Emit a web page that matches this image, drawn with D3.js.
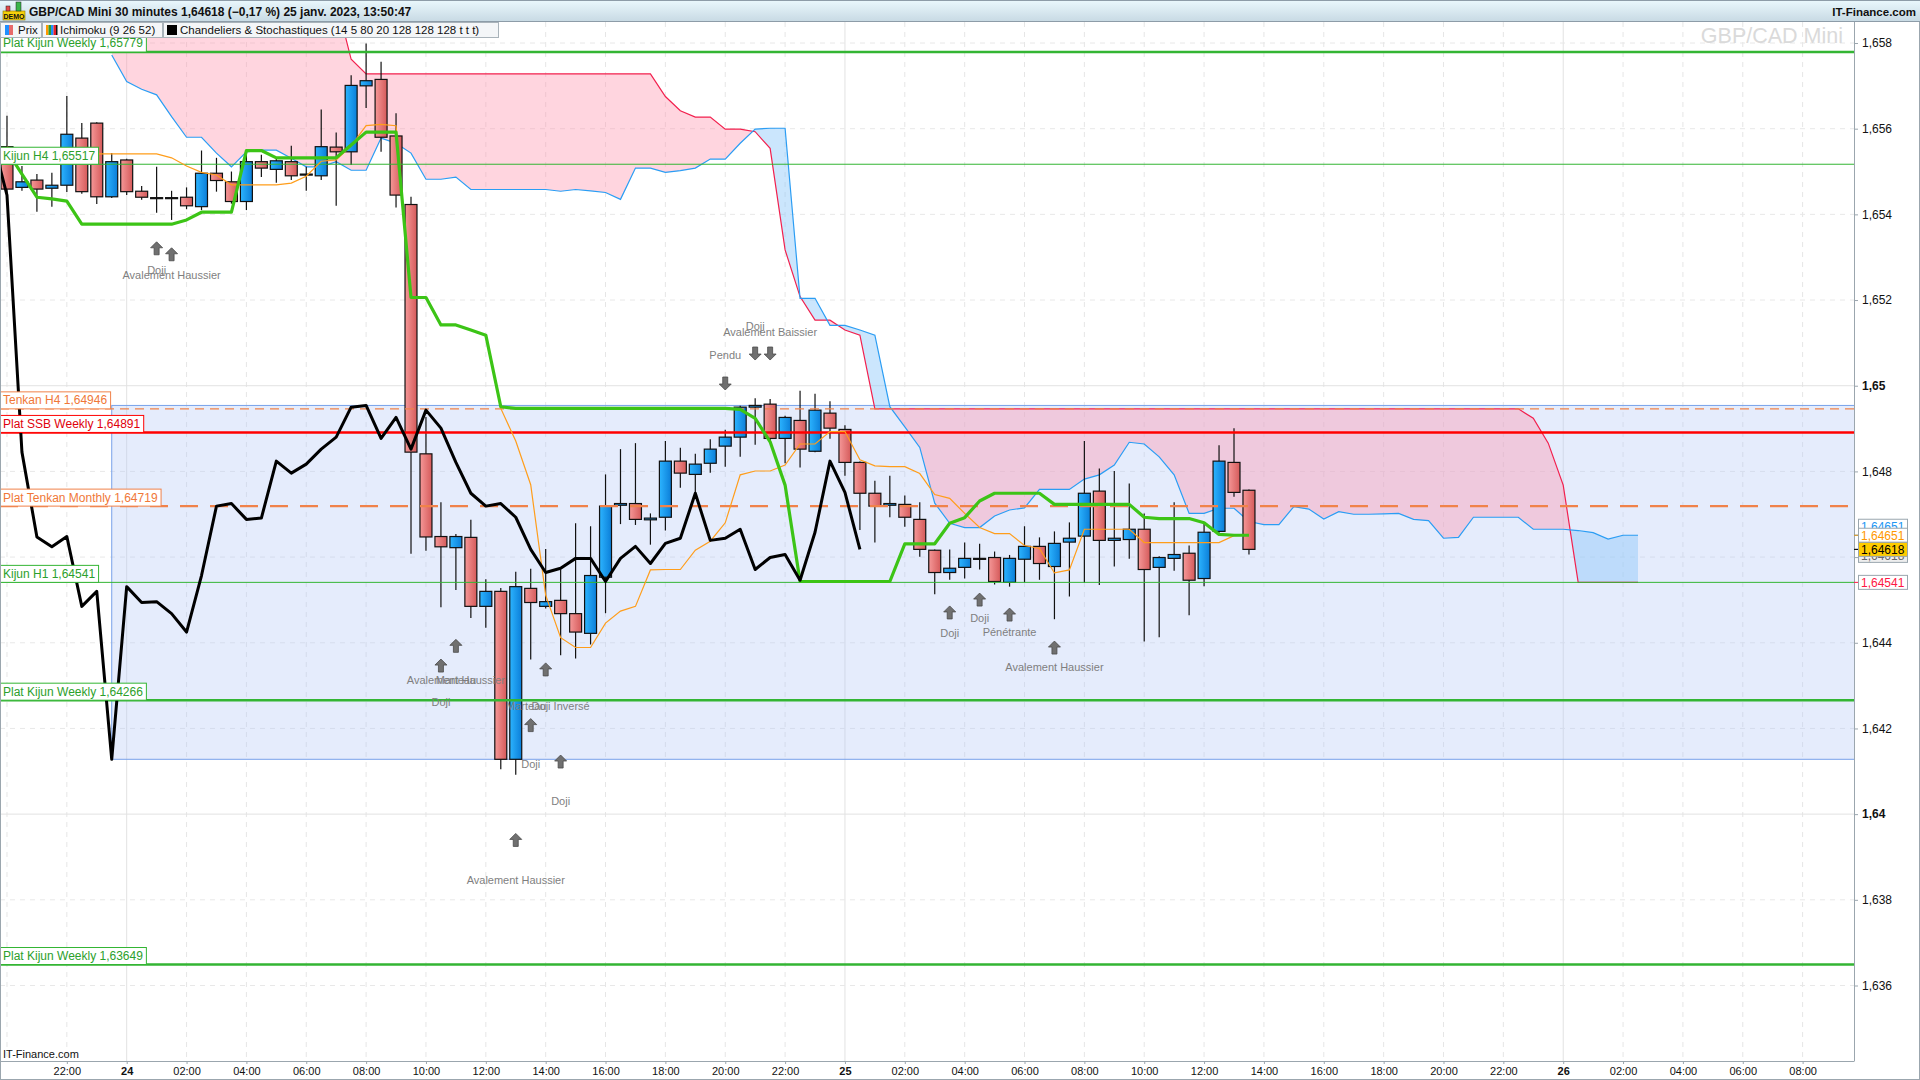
<!DOCTYPE html>
<html>
<head>
<meta charset="utf-8">
<script src="https://cdn.jsdelivr.net/npm/d3@7"></script>
<style>
  body { margin: 0; background: #fff; }
  svg { display: block; }
  text { font-family: "Liberation Sans", Arial, sans-serif; }
</style>
</head>
<body>
<div id="chart"></div>
<script>
// GBP/CAD Mini, 30 minute candles, the first one opens on 23 janv. 20:00
var firstCandle = new Date(2023, 0, 23, 20, 0);

var opens = [1.65558,1.65463,1.65480,1.65461,1.65468,1.65578,1.65613,1.65441,1.65527,1.65454,
  1.65439,1.65439,1.65440,1.65418,1.65496,1.65476,1.65430,1.65523,1.65505,1.65523,
  1.65494,1.65490,1.65557,1.65546,1.65700,1.65715,1.65583,1.65423,1.64841,1.64648,
  1.64622,1.64646,1.64485,1.64520,1.64128,1.64527,1.64485,1.64499,1.64468,1.64422,
  1.64553,1.64721,1.64725,1.64687,1.64693,1.64824,1.64793,1.64819,1.64859,1.64880,
  1.64950,1.64957,1.64877,1.64919,1.64847,1.64936,1.64898,1.64821,1.64749,1.64721,
  1.64723,1.64688,1.64616,1.64564,1.64576,1.64597,1.64599,1.64541,1.64595,1.64625,
  1.64578,1.64635,1.64649,1.64754,1.64639,1.64641,1.64665,1.64576,1.64597,1.64609,
  1.64550,1.64660,1.64821,1.64756];
var highs = [1.65630,1.65513,1.65494,1.65497,1.65676,1.65613,1.65615,1.65543,1.65530,1.65466,
  1.65511,1.65455,1.65463,1.65549,1.65532,1.65500,1.65546,1.65539,1.65532,1.65560,
  1.65511,1.65645,1.65591,1.65725,1.65799,1.65756,1.65636,1.65441,1.64927,1.64728,
  1.64654,1.64687,1.64548,1.64528,1.64566,1.64573,1.64619,1.64571,1.64679,1.64672,
  1.64793,1.64852,1.64866,1.64702,1.64871,1.64855,1.64841,1.64875,1.64897,1.64953,
  1.64971,1.64969,1.64930,1.64988,1.64981,1.64964,1.64908,1.64823,1.64778,1.64790,
  1.64744,1.64728,1.64618,1.64618,1.64634,1.64631,1.64613,1.64605,1.64672,1.64646,
  1.64660,1.64681,1.64871,1.64807,1.64801,1.64772,1.64702,1.64602,1.64728,1.64627,
  1.64681,1.64861,1.64901,1.64758];
var lows = [1.65434,1.65455,1.65406,1.65418,1.65452,1.65448,1.65424,1.65438,1.65445,1.65434,
  1.65404,1.65387,1.65412,1.65410,1.65453,1.65425,1.65410,1.65487,1.65474,1.65480,
  1.65455,1.65480,1.65420,1.65515,1.65648,1.65546,1.65416,1.64608,1.64615,1.64483,
  1.64523,1.64458,1.64435,1.64105,1.64092,1.64361,1.64480,1.64371,1.64363,1.64396,
  1.64469,1.64677,1.64675,1.64629,1.64662,1.64762,1.64746,1.64797,1.64811,1.64834,
  1.64862,1.64870,1.64819,1.64809,1.64845,1.64876,1.64790,1.64663,1.64634,1.64693,
  1.64671,1.64601,1.64513,1.64547,1.64550,1.64571,1.64536,1.64531,1.64541,1.64547,
  1.64455,1.64508,1.64540,1.64535,1.64578,1.64596,1.64403,1.64413,1.64568,1.64464,
  1.64532,1.64657,1.64741,1.64606];
var closes = [1.65459,1.65476,1.65459,1.65468,1.65587,1.65453,1.65441,1.65523,1.65453,1.65440,
  1.65439,1.65439,1.65420,1.65496,1.65479,1.65430,1.65523,1.65508,1.65525,1.65490,
  1.65494,1.65558,1.65546,1.65701,1.65712,1.65580,1.65445,1.64845,1.64647,1.64624,
  1.64648,1.64485,1.64520,1.64128,1.64531,1.64494,1.64496,1.64468,1.64425,1.64557,
  1.64719,1.64725,1.64688,1.64691,1.64824,1.64796,1.64817,1.64852,1.64880,1.64950,
  1.64954,1.64877,1.64926,1.64852,1.64943,1.64901,1.64821,1.64749,1.64719,1.64725,
  1.64693,1.64618,1.64564,1.64574,1.64597,1.64597,1.64543,1.64597,1.64625,1.64585,
  1.64632,1.64644,1.64749,1.64639,1.64644,1.64665,1.64571,1.64599,1.64606,1.64546,
  1.64658,1.64824,1.64751,1.64618];

var tenkan = [1.65557,1.65546,1.65541,1.65541,1.65541,1.65541,1.65541,1.65541,1.65541,1.65541,
  1.65541,1.65532,1.65513,1.65498,1.65492,1.65469,1.65469,1.65469,1.65469,1.65473,
  1.65489,1.65524,1.65527,1.65560,1.65607,1.65610,1.65607,1.65206,1.65206,1.65142,
  1.65142,1.65130,1.65118,1.64947,1.64871,1.64769,1.64511,1.64412,1.64389,1.64389,
  1.64446,1.64474,1.64485,1.64570,1.64571,1.64571,1.64616,1.64637,1.64680,1.64792,
  1.64801,1.64801,1.64815,1.64864,1.64864,1.64893,1.64893,1.64827,1.64813,1.64811,
  1.64811,1.64795,1.64746,1.64737,1.64702,1.64669,1.64655,1.64655,1.64627,1.64620,
  1.64563,1.64570,1.64665,1.64665,1.64665,1.64665,1.64634,1.64634,1.64634,1.64634,
  1.64634,1.64634,1.64650,1.64651];
var kijun = [1.65548,1.65494,1.65440,1.65436,1.65431,1.65377,1.65377,1.65377,1.65377,1.65377,
  1.65377,1.65377,1.65387,1.65405,1.65405,1.65405,1.65549,1.65549,1.65532,1.65532,
  1.65532,1.65532,1.65532,1.65562,1.65592,1.65592,1.65592,1.65206,1.65206,1.65142,
  1.65142,1.65130,1.65118,1.64951,1.64947,1.64947,1.64947,1.64947,1.64947,1.64947,
  1.64947,1.64947,1.64947,1.64947,1.64947,1.64947,1.64947,1.64947,1.64947,1.64945,
  1.64924,1.64869,1.64768,1.64543,1.64543,1.64543,1.64543,1.64543,1.64543,1.64543,
  1.64631,1.64631,1.64631,1.64679,1.64692,1.64731,1.64749,1.64749,1.64749,1.64749,
  1.64723,1.64723,1.64723,1.64723,1.64723,1.64723,1.64693,1.64690,1.64690,1.64690,
  1.64680,1.64653,1.64651,1.64651];

// cloud, already shifted 26 periods forward, starts at candle 7
var cloudStart = 7;
var spanA = [1.65772,1.65710,1.65692,1.65679,1.65628,1.65580,1.65580,1.65543,1.65511,1.65546,
  1.65550,1.65550,1.65531,1.65511,1.65511,1.65523,1.65503,1.65503,1.65578,1.65566,
  1.65543,1.65482,1.65482,1.65487,1.65458,1.65458,1.65458,1.65458,1.65458,1.65458,
  1.65454,1.65458,1.65455,1.65451,1.65435,1.65508,1.65508,1.65498,1.65502,1.65508,
  1.65529,1.65529,1.65566,1.65599,1.65601,1.65601,1.65204,1.65204,1.65141,1.65141,
  1.65130,1.65118,1.64951,1.64904,1.64856,1.64726,1.64679,1.64669,1.64669,1.64696,
  1.64710,1.64715,1.64758,1.64758,1.64758,1.64782,1.64792,1.64815,1.64868,1.64864,
  1.64834,1.64792,1.64702,1.64702,1.64714,1.64714,1.64683,1.64676,1.64676,1.64718,
  1.64712,1.64689,1.64706,1.64700,1.64700,1.64701,1.64702,1.64688,1.64685,1.64644,
  1.64646,1.64693,1.64693,1.64693,1.64693,1.64665,1.64665,1.64665,1.64662,1.64657,
  1.64642,1.64651,1.64651];
var spanB = [1.65900,1.65900,1.65900,1.65900,1.65900,1.65900,1.65900,1.65900,1.65900,1.65900,
  1.65900,1.65900,1.65900,1.65900,1.65900,1.65900,1.65762,1.65728,1.65728,1.65728,
  1.65728,1.65728,1.65728,1.65728,1.65728,1.65728,1.65728,1.65728,1.65728,1.65728,
  1.65728,1.65728,1.65728,1.65728,1.65728,1.65728,1.65728,1.65675,1.65642,1.65627,
  1.65627,1.65599,1.65599,1.65593,1.65554,1.65317,1.65208,1.65153,1.65153,1.65130,
  1.65118,1.64946,1.64946,1.64946,1.64946,1.64946,1.64946,1.64946,1.64946,1.64946,
  1.64946,1.64946,1.64946,1.64946,1.64946,1.64946,1.64946,1.64946,1.64946,1.64946,
  1.64946,1.64946,1.64946,1.64946,1.64946,1.64946,1.64946,1.64946,1.64946,1.64946,
  1.64946,1.64946,1.64946,1.64946,1.64946,1.64946,1.64946,1.64946,1.64946,1.64946,
  1.64946,1.64946,1.64946,1.64946,1.64946,1.64924,1.64866,1.64768,1.64541,1.64541,
  1.64541,1.64541,1.64541];

var levelNames = ["Plat Kijun Weekly", "Kijun H4", "Tenkan H4", "Plat SSB Weekly",
  "Plat Tenkan Monthly", "Kijun H1", "Plat Kijun Weekly", "Plat Kijun Weekly"];
var levelValues = [1.65779, 1.65517, 1.64946, 1.64891, 1.64719, 1.64541, 1.64266, 1.63649];

var zoneTop = 1.64954, zoneBottom = 1.64128, zoneStart = 7;

var priceTicks = [1.636, 1.638, 1.640, 1.642, 1.644, 1.646, 1.648, 1.650, 1.652, 1.654, 1.656, 1.658];

var arrowIdx = [10, 11, 29, 30, 34, 35, 36, 37, 63, 65, 67, 70, 48, 50, 51];
var arrowTip = [1.65336, 1.65322, 1.64362, 1.64408, 1.63955, 1.64223, 1.64353, 1.64138,
  1.64486, 1.64516, 1.64481, 1.64404, 1.64990, 1.65060, 1.65060];
var arrowDir = ["up","up","up","up","up","up","up","up","up","up","up","up","down","down","down"];

var noteText = ["Doji", "Avalement Haussier", "Pendu", "Doji", "Avalement Baissier", "Doji",
  "Avalement Haussier", "Marteau", "Marteau", "Doji Inversé", "Doji", "Doji", "Avalement Haussier",
  "Doji", "Doji", "Pénétrante", "Avalement Haussier"];
var noteIdx = [10, 11, 48, 50, 51, 29, 30, 30, 34.7, 37, 35, 37, 34, 63, 65, 67, 70];
var notePrice = [1.65270, 1.65257, 1.65072, 1.65138, 1.65125, 1.64262, 1.64313, 1.64313, 1.64251,
  1.64251, 1.64117, 1.64031, 1.63846, 1.64423, 1.64458, 1.64425, 1.64342];

var sideKinds = ["spanA", "chikou", "tenkan", "last", "spanB"];
var sideValues = [1.64651, 1.64618, 1.64651, 1.64618, 1.64541];

var W = 1920, H = 1080;
var plot = { left: 0, top: 22, right: 1854, bottom: 1061 };

function candleTime(i) { return new Date(firstCandle.getTime() + i * 30 * 60000); }
function fmt(v) { return d3.format(".5f")(v).replace(".", ","); }

var svg = d3.select("#chart").append("svg")
  .attr("width", W).attr("height", H)
  .style("background", "#fff");

var x = d3.scaleTime()
  .domain([new Date(2023, 0, 23, 19, 46), new Date(2023, 0, 26, 9, 43)])
  .range([plot.left, plot.right]);
var y = d3.scaleLinear().domain([1.658, 1.636]).range([43, 985.5]);

var defs = svg.append("defs");
defs.append("clipPath").attr("id", "plotClip").append("rect")
  .attr("x", plot.left).attr("y", plot.top)
  .attr("width", plot.right - plot.left).attr("height", plot.bottom - plot.top);

var gRed = defs.append("linearGradient").attr("id", "gRed");
gRed.append("stop").attr("offset", "0%").attr("stop-color", "#f59898");
gRed.append("stop").attr("offset", "100%").attr("stop-color", "#d55a5a");
var gBlue = defs.append("linearGradient").attr("id", "gBlue");
gBlue.append("stop").attr("offset", "0%").attr("stop-color", "#2cb4ff");
gBlue.append("stop").attr("offset", "100%").attr("stop-color", "#0b7ed8");
var gHead = defs.append("linearGradient").attr("id", "gHead").attr("x2", 0).attr("y2", 1);
gHead.append("stop").attr("offset", "0%").attr("stop-color", "#eaf8fd");
gHead.append("stop").attr("offset", "100%").attr("stop-color", "#c7d9e3");

var g = svg.append("g").attr("clip-path", "url(#plotClip)");

// grid
var timeTicks = x.ticks(d3.timeHour.every(2));
g.selectAll(".vgrid").data(timeTicks).enter().append("line")
  .attr("x1", d => x(d)).attr("x2", d => x(d))
  .attr("y1", plot.top).attr("y2", plot.bottom)
  .attr("stroke", d => d.getHours() === 0 ? "#e2e2e2" : "#e6e6e6")
  .attr("stroke-dasharray", d => d.getHours() === 0 ? null : "5,5");
g.selectAll(".hgrid").data(priceTicks).enter().append("line")
  .attr("x1", plot.left).attr("x2", plot.right)
  .attr("y1", d => y(d)).attr("y2", d => y(d))
  .attr("stroke", d => Math.abs(d * 100 - Math.round(d * 100)) < 1e-6 ? "#e2e2e2" : "#e8e8e8")
  .attr("stroke-dasharray", d => Math.abs(d * 100 - Math.round(d * 100)) < 1e-6 ? null : "5,5");

// lavender zone
g.append("rect")
  .attr("x", x(candleTime(zoneStart))).attr("y", y(zoneTop))
  .attr("width", plot.right - x(candleTime(zoneStart)) + 5)
  .attr("height", y(zoneBottom) - y(zoneTop))
  .attr("fill", "rgba(180,200,245,0.35)")
  .attr("stroke", "#78a2ea").attr("stroke-width", 1);

// cloud
var cloud = spanA.map((a, k) => ({ t: candleTime(cloudStart + k), a: a, b: spanB[k] }));
defs.append("clipPath").attr("id", "aboveA").append("path")
  .attr("d", d3.area().x(d => x(d.t)).y0(0).y1(d => y(d.a))(cloud));
defs.append("clipPath").attr("id", "belowA").append("path")
  .attr("d", d3.area().x(d => x(d.t)).y0(H).y1(d => y(d.a))(cloud));
var between = d3.area().x(d => x(d.t)).y0(d => y(d.a)).y1(d => y(d.b));
g.append("g").attr("clip-path", "url(#aboveA)").append("path")
  .attr("d", between(cloud)).attr("fill", "rgba(255,150,175,0.40)");
g.append("g").attr("clip-path", "url(#belowA)").append("path")
  .attr("d", between(cloud)).attr("fill", "rgba(140,200,250,0.45)");
g.append("path").datum(cloud)
  .attr("d", d3.line().x(d => x(d.t)).y(d => y(d.b)))
  .attr("fill", "none").attr("stroke", "#f2204e").attr("stroke-width", 1.2);
g.append("path").datum(cloud)
  .attr("d", d3.line().x(d => x(d.t)).y(d => y(d.a)))
  .attr("fill", "none").attr("stroke", "#2a9df4").attr("stroke-width", 1.2);

// candles
var candles = opens.map((o, i) => ({ t: candleTime(i), o: o, h: highs[i], l: lows[i], c: closes[i] }));
var bw = (x(candleTime(1)) - x(candleTime(0))) * 0.8;
var cg = g.append("g");
cg.selectAll(".wick").data(candles).enter().append("line")
  .attr("x1", d => x(d.t)).attr("x2", d => x(d.t))
  .attr("y1", d => y(d.h)).attr("y2", d => y(d.l))
  .attr("stroke", "#111").attr("stroke-width", 1.2);
cg.selectAll(".body").data(candles).enter().append("rect")
  .attr("x", d => x(d.t) - bw / 2)
  .attr("y", d => y(Math.max(d.o, d.c)))
  .attr("width", bw)
  .attr("height", d => Math.max(1, Math.abs(y(d.o) - y(d.c))))
  .attr("fill", d => d.c > d.o ? "url(#gBlue)" : d.c < d.o ? "url(#gRed)" : "#111")
  .attr("stroke", "#111").attr("stroke-width", 1.2);

// horizontal levels
function levelStyle(name) {
  if (name.indexOf("Plat Kijun") === 0) return { c: "#33b533", t: "#2ca02c", w: 2.5, dash: null };
  if (name.indexOf("Kijun") === 0) return { c: "#33b533", t: "#2ca02c", w: 1, dash: null };
  if (name === "Tenkan H4") return { c: "#f0824a", t: "#f07838", w: 1.2, dash: "9,6" };
  if (name.indexOf("Plat SSB") === 0) return { c: "#ff0000", t: "#e0000b", w: 2.5, dash: null };
  return { c: "#f0824a", t: "#f07838", w: 2.2, dash: "18,12" };
}
var levels = levelNames.map((n, k) => ({ name: n, v: levelValues[k], s: levelStyle(n) }));
g.selectAll(".level").data(levels).enter().append("line")
  .attr("x1", plot.left).attr("x2", plot.right)
  .attr("y1", d => y(d.v)).attr("y2", d => y(d.v))
  .attr("stroke", d => d.s.c).attr("stroke-width", d => d.s.w)
  .attr("stroke-dasharray", d => d.s.dash);

// ichimoku lines
var lineT = d3.line().x((d, i) => x(candleTime(i))).y(d => y(d));
g.append("path").datum(tenkan).attr("d", lineT)
  .attr("fill", "none").attr("stroke", "#ff9d1a").attr("stroke-width", 1.2);
g.append("path").datum(kijun).attr("d", lineT)
  .attr("fill", "none").attr("stroke", "#3cc416").attr("stroke-width", 3.2)
  .attr("stroke-linejoin", "round");
var chikou = closes.map((c, i) => ({ t: candleTime(i - 26), v: c }));
g.append("path").datum(chikou)
  .attr("d", d3.line().x(d => x(d.t)).y(d => y(d.v)))
  .attr("fill", "none").attr("stroke", "#000").attr("stroke-width", 3)
  .attr("stroke-linejoin", "round");

// pattern arrows and notes
var arrows = arrowIdx.map((i, k) => ({ x: x(candleTime(i)), y: y(arrowTip[k]), dir: arrowDir[k] }));
g.selectAll(".arrow").data(arrows).enter().append("path")
  .attr("d", d => {
    var s = d.dir === "up" ? 1 : -1;
    var pts = [[0, 0], [6, 6], [2.5, 6], [2.5, 13], [-2.5, 13], [-2.5, 6], [-6, 6]];
    return "M" + pts.map(p => (d.x + p[0]) + "," + (d.y + s * p[1])).join("L") + "Z";
  })
  .attr("fill", "#707070").attr("stroke", "#4a4a4a").attr("stroke-width", 0.8);
g.selectAll(".note").data(noteText).enter().append("text")
  .attr("x", (d, k) => x(candleTime(noteIdx[k])))
  .attr("y", (d, k) => y(notePrice[k]))
  .attr("dy", "0.35em").attr("text-anchor", "middle")
  .attr("font-size", 11).attr("fill", "#7f7f7f")
  .text(d => d);

// level labels on the left
var lab = svg.append("g").attr("clip-path", "url(#plotClip)");
levels.forEach(d => {
  var yl = y(d.v);
  var gg = lab.append("g");
  var r = gg.append("rect").attr("x", 0.5).attr("y", yl - 17).attr("height", 17)
    .attr("fill", "#fff").attr("stroke", d.s.c).attr("stroke-width", 1);
  var t = gg.append("text").attr("x", 3).attr("y", yl - 4.5)
    .attr("font-size", 12).attr("fill", d.s.t).text(d.name + " " + fmt(d.v));
  r.attr("width", t.node().getComputedTextLength() + 6);
});

// watermark
svg.append("text").attr("x", 1843).attr("y", 43).attr("text-anchor", "end")
  .attr("font-size", 21.5).attr("fill", "#dadada").text("GBP/CAD Mini");

// frame
svg.append("line").attr("x1", plot.right + 0.5).attr("x2", plot.right + 0.5)
  .attr("y1", plot.top).attr("y2", plot.bottom).attr("stroke", "#9ba6ae");
svg.append("line").attr("x1", 0).attr("x2", plot.right + 0.5)
  .attr("y1", plot.bottom + 0.5).attr("y2", plot.bottom + 0.5).attr("stroke", "#9ba6ae");
svg.append("rect").attr("x", 0.5).attr("y", 0.5).attr("width", W - 1).attr("height", H - 1)
  .attr("fill", "none").attr("stroke", "#9ba6ae");

// price axis
var yAxis = svg.append("g").attr("transform", "translate(" + plot.right + ",0)")
  .call(d3.axisRight(y).tickValues(priceTicks).tickSize(4).tickPadding(4)
    .tickFormat(d => d3.format(".3~f")(d).replace(".", ",")));
yAxis.select(".domain").remove();
yAxis.selectAll(".tick line").attr("stroke", "#9ba6ae");
yAxis.selectAll(".tick text").attr("font-size", 12).attr("fill", "#111")
  .attr("font-weight", d => Math.abs(d * 100 - Math.round(d * 100)) < 1e-6 ? "bold" : null);

// time axis, labels that would be cut at the edges are left out
var labelTicks = timeTicks.filter(d => x(d) > 30 && x(d) < plot.right - 20);
var xAxis = svg.append("g").attr("transform", "translate(0," + plot.bottom + ")")
  .call(d3.axisBottom(x).tickValues(labelTicks).tickSize(3).tickPadding(3)
    .tickFormat(d => d.getHours() === 0 ? d3.timeFormat("%d")(d) : d3.timeFormat("%H:%M")(d)));
xAxis.select(".domain").remove();
xAxis.selectAll(".tick line").attr("stroke", "#9ba6ae");
xAxis.selectAll(".tick text").attr("font-size", 11).attr("fill", "#111")
  .attr("font-weight", d => d.getHours() === 0 ? "bold" : null);

svg.append("text").attr("x", 3).attr("y", 1058).attr("font-size", 11).attr("fill", "#111")
  .text("IT-Finance.com");

// value labels on the price axis
var sideStyle = {
  spanA: { t: "#2196f3", bg: "#fff", dy: -9 },
  chikou: { t: "#666", bg: "#eeeeee", dy: 6 },
  tenkan: { t: "#ff9800", bg: "#fff", dy: 0 },
  last: { t: "#000", bg: "#ffcc00", dy: 0 },
  spanB: { t: "#ff1744", bg: "#fff", dy: 0 }
};
sideKinds.forEach((k, n) => {
  var st = sideStyle[k];
  var yc = y(sideValues[n]);
  svg.append("line").attr("x1", plot.right).attr("x2", plot.right + 4)
    .attr("y1", yc).attr("y2", yc).attr("stroke", st.t);
  svg.append("rect").attr("x", 1858.5).attr("y", yc + st.dy - 7).attr("width", 49).attr("height", 14)
    .attr("fill", st.bg).attr("stroke", "#9aa6ae");
  svg.append("text").attr("x", 1861).attr("y", yc + st.dy + 4.5)
    .attr("font-size", 12).attr("fill", st.t).text(fmt(sideValues[n]));
});

// header bar
svg.append("rect").attr("x", 0).attr("y", 0).attr("width", W).attr("height", 22)
  .attr("fill", "url(#gHead)");
svg.append("line").attr("x1", 0).attr("x2", W).attr("y1", 21.5).attr("y2", 21.5).attr("stroke", "#8d9ca8");
svg.append("line").attr("x1", 0).attr("x2", W).attr("y1", 0.5).attr("y2", 0.5).attr("stroke", "#8d9ca8");
// demo icon
svg.append("rect").attr("x", 3).attr("y", 11).attr("width", 22).attr("height", 9)
  .attr("fill", "#f6d10a").attr("stroke", "#8a7400").attr("stroke-width", 0.6);
svg.append("text").attr("x", 14).attr("y", 18.5).attr("text-anchor", "middle")
  .attr("font-size", 7).attr("font-weight", "bold").attr("fill", "#111").text("DEMO");
svg.append("rect").attr("x", 6).attr("y", 6).attr("width", 4).attr("height", 5)
  .attr("fill", "#e24a4a").attr("stroke", "#222").attr("stroke-width", 0.5);
svg.append("rect").attr("x", 16).attr("y", 2).attr("width", 5).attr("height", 9)
  .attr("fill", "#39b54a").attr("stroke", "#222").attr("stroke-width", 0.5);
svg.append("text").attr("x", 29).attr("y", 15.5).attr("font-size", 12).attr("font-weight", "bold")
  .attr("fill", "#111").text("GBP/CAD Mini 30 minutes 1,64618 (\u22120,17 %) 25 janv. 2023, 13:50:47");
svg.append("text").attr("x", 1916).attr("y", 15.5).attr("text-anchor", "end").attr("font-size", 11.5)
  .attr("font-weight", "bold").attr("fill", "#111").text("IT-Finance.com");

// legend row
var legendBoxes = [[0, 41], [42, 162], [163, 498]];
legendBoxes.forEach(b => {
  svg.append("rect").attr("x", b[0] + 0.5).attr("y", 22.5).attr("width", b[1] - b[0]).attr("height", 15)
    .attr("fill", "#f4f6f8").attr("stroke", "#a9b3ba");
});
svg.append("rect").attr("x", 5).attr("y", 25).attr("width", 4).attr("height", 10).attr("fill", "#1e90ff");
svg.append("rect").attr("x", 9).attr("y", 25).attr("width", 4).attr("height", 10).attr("fill", "#e86a6a");
["#ff9900", "#2e9e2e", "#1e90ff", "#e8202a"].forEach((c, k) => {
  svg.append("rect").attr("x", 46 + k * 2.5).attr("y", 25).attr("width", 2.5).attr("height", 10).attr("fill", c);
});
svg.append("rect").attr("x", 56).attr("y", 25).attr("width", 1.5).attr("height", 10).attr("fill", "#111");
svg.append("rect").attr("x", 167).attr("y", 25).attr("width", 10).attr("height", 10).attr("fill", "#000");
svg.append("text").attr("x", 18).attr("y", 34).attr("font-size", 11.5).attr("fill", "#111").text("Prix");
svg.append("text").attr("x", 60).attr("y", 34).attr("font-size", 11.5).attr("fill", "#111").text("Ichimoku (9 26 52)");
svg.append("text").attr("x", 180).attr("y", 34).attr("font-size", 11.5).attr("fill", "#111")
  .text("Chandeliers & Stochastiques (14 5 80 20 128 128 128 t t t)");
</script>
</body>
</html>
